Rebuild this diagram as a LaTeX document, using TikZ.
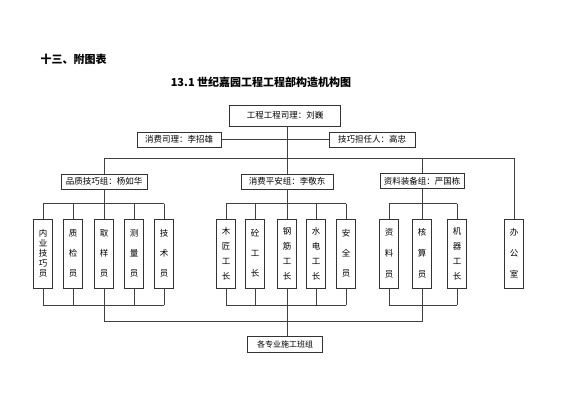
\documentclass[tikz,border=0pt]{standalone}
\usepackage{fontspec}
\setmainfont{Noto Sans CJK SC}

\begin{document}
\begin{tikzpicture}[x=1pt,y=-1pt]
\tikzset{box/.style = {shape=rectangle,draw=black!80,line width=0.7pt,inner sep=0pt,
                       minimum height=15pt,font=\fontsize{8.5}{10}\selectfont}}
\tikzset{member/.style = {box,minimum width=19pt,minimum height=69pt,align=center,
                          font=\fontsize{8.5}{#1}\selectfont}}
\tikzset{link/.style = {draw=black!75,line width=0.7pt}}
\useasboundingbox (0,0) rectangle (565,400);
% titles
\node[anchor=west,font=\fontsize{11}{13}\selectfont\bfseries] (chapter) at (37,59) {十三、附图表};
\node[font=\fontsize{11}{13}\selectfont\bfseries] (title) at (261,82) {13.1 世纪嘉园工程工程部构造机构图};
% heads
\node[box,minimum width=111pt,minimum height=21pt] (boss) at (285,115.5) {工程工程司理：刘巍};
\node[box,minimum width=84pt] (cons) at (179,139.5) {消费司理：李招雄};
\node[box,minimum width=86pt] (tech) at (372,139.5) {技巧担任人：高忠};
% groups
\node[box,minimum width=86pt] (quality) at (104,181.5) {品质技巧组：杨如华};
\node[box,minimum width=92pt] (safety)  at (287,181.5) {消费平安组：李敬东};
\node[box,minimum width=84pt] (material) at (422,181) {资料装备组：严国栋};
% members
\node[member=10] (q1) at (43,253.5)  {内\\业\\技\\巧\\员};
\node[member=20] (q2) at (73,253.5)  {质\\检\\员};
\node[member=20] (q3) at (104,253.5) {取\\样\\员};
\node[member=20] (q4) at (134,253.5) {测\\量\\员};
\node[member=20] (q5) at (164,253.5) {技\\术\\员};
\node[member=15] (s1) at (226,253.5) {木\\匠\\工\\长};
\node[member=20] (s2) at (255,253.5) {砼\\工\\长};
\node[member=15] (s3) at (287,253.5) {钢\\筋\\工\\长};
\node[member=15] (s4) at (316,253.5) {水\\电\\工\\长};
\node[member=20] (s5) at (346,253.5) {安\\全\\员};
\node[member=21] (m1) at (389,253.5) {资\\料\\员};
\node[member=21] (m2) at (422,253.5) {核\\算\\员};
\node[member=15] (m3) at (457,253.5) {机\\器\\工\\长};
\node[member=21] (office) at (514,253.5) {办\\公\\室};
\node[box,minimum width=75pt,minimum height=16pt,font=\fontsize{8}{10}\selectfont] (crew) at (285,344) {各专业施工班组};
% bus levels
\coordinate (busL) at (104,158);
\coordinate (busR) at (514,158);
\coordinate (sub)  at (0,203.5);
\coordinate (low)  at (0,305);
\coordinate (base) at (0,321);
% edges
\draw[link] (boss.south -| safety) -- (safety);
\draw[link] (cons) -- (tech);
\draw[link] (busL) -- (busR);
\draw[link] (busL) -- (quality);
\draw[link] (busR) -- (office);
\draw[link] (material |- busR) -- (material);
\draw[link] (quality) -- (quality |- sub);
\draw[link] (safety) -- (safety |- sub);
\draw[link] (material) -- (material |- sub);
\foreach \m in {q1,q2,q3,q4,q5,s1,s2,s3,s4,s5,m1,m2,m3}{
  \draw[link] (\m) -- (\m |- sub);
  \draw[link] (\m) -- (\m |- low);
}
\draw[link] (q1 |- sub) -- (q5 |- sub);
\draw[link] (s1 |- sub) -- (s5 |- sub);
\draw[link] (m1 |- sub) -- (m3 |- sub);
\draw[link] (q1 |- low) -- (q5 |- low);
\draw[link] (s1 |- low) -- (s5 |- low);
\draw[link] (m1 |- low) -- (m3 |- low);
\draw[link] (q3 |- low) -- (q3 |- base) -- (m2 |- base) -- (m2 |- low);
\draw[link] (s3) -- (s3 |- crew.north);
\end{tikzpicture}
\end{document}
